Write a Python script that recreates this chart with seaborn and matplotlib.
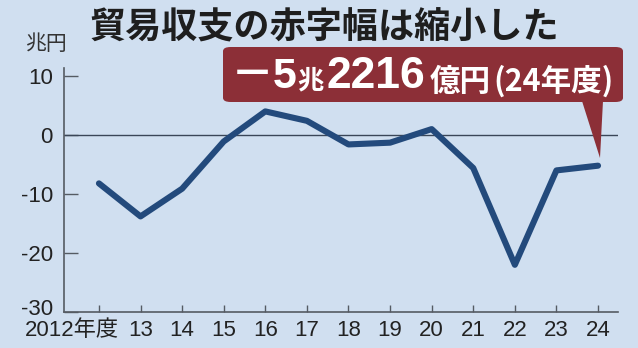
import matplotlib
matplotlib.use("Agg")
import matplotlib.pyplot as plt
import seaborn as sns
import pandas as pd
from matplotlib.patches import FancyBboxPatch, Polygon
from matplotlib.transforms import ScaledTranslation

# ---- data ----
years = [2012, 2013, 2014, 2015, 2016, 2017, 2018, 2019, 2020, 2021, 2022, 2023, 2024]
balance = [-8.2, -13.8, -9.1, -1.1, 4.0, 2.4, -1.6, -1.3, 1.0, -5.6, -22.0, -6.0, -5.2]
xtick_labels = ["2012年度", "13", "14", "15", "16", "17", "18", "19", "20", "21", "22", "23", "24"]
ytick_vals = [10, 0, -10, -20, -30]
ytick_labels = ["10", "0", "-10", "-20", "-30"]
title = "貿易収支の赤字幅は縮小した"
unit = "兆円"

sns.set_theme(style="white")
BG = "#d0dff0"
FAM = ["Liberation Sans", "Noto Sans CJK JP", "DejaVu Sans"]
plt.rcParams["font.family"] = FAM

W, H = 638, 348
fig = plt.figure(figsize=(W / 100, H / 100), dpi=100, facecolor=BG)
ax = fig.add_axes([64 / W, 36 / H, 554 / W, 272 / H])
ax.set_facecolor(BG)

df = pd.DataFrame({"year": years, "balance": balance})
ax.axhline(0, color="#3a4658", lw=1.0, zorder=1)
sns.lineplot(data=df, x="year", y="balance", ax=ax, color="#234a7c", lw=4.4, zorder=3)

ax.set_xlim(2011.16, 2024.48)
ax.set_ylim(-30, 16.1)
ax.set_xlabel("")
ax.set_ylabel("")

for s in ["top", "right"]:
    ax.spines[s].set_visible(False)
for s in ["left", "bottom"]:
    ax.spines[s].set_color("#555b63")
    ax.spines[s].set_linewidth(1.2)
ax.spines["left"].set_bounds(-30, 11.3)

ax.set_yticks(ytick_vals)
ax.set_yticklabels(ytick_labels)
ax.set_xticks(years)
ax.set_xticklabels(xtick_labels)
ax.tick_params(axis="y", direction="in", length=10, width=1.0, color="#555b63",
               labelsize=16, pad=8, labelcolor="#222222", left=True)
ax.tick_params(axis="x", direction="in", length=5, width=1.0, color="#555b63",
               labelsize=16, pad=6, labelcolor="#222222", bottom=True)
for lab in ax.get_xticklabels() + ax.get_yticklabels():
    lab.set_family(FAM)
first = ax.get_xticklabels()[0]
first.set_transform(first.get_transform() + ScaledTranslation(-0.27, 0, fig.dpi_scale_trans))
last_y = ax.get_yticklabels()[-1]
last_y.set_transform(last_y.get_transform() + ScaledTranslation(0, 0.05, fig.dpi_scale_trans))

# title and unit
fig.text(90 / W, 1 - 38 / H, title, fontsize=26, fontweight="bold",
         family=["Noto Sans CJK JP"], color="#1e1e1e", ha="left", va="baseline")
fig.text(25 / W, 1 - 50 / H, unit, fontsize=15, family=["Noto Sans CJK JP"],
         color="#333333", ha="left", va="baseline")

# callout box
RED = "#8c2f37"
def fx(px):
    return px / W
def fy(py):
    return 1 - py / H
box = FancyBboxPatch((fx(223), fy(102)), fx(623) - fx(223), fy(47) - fy(102),
                     boxstyle="round,pad=0,rounding_size=0.012",
                     transform=fig.transFigure, facecolor=RED, edgecolor="none", zorder=5)
fig.patches.append(box)
ptr = Polygon([(fx(582), fy(101)), (fx(603), fy(101)), (fx(600), fy(158))],
              closed=True, transform=fig.transFigure, facecolor=RED, edgecolor="none", zorder=5)
fig.patches.append(ptr)

bold_fam = ["Liberation Sans", "Noto Sans CJK JP"]
cjk = ["Noto Sans CJK JP"]
base_y = fy(88)
pieces = [
    (231, "－5", 31, bold_fam, base_y),
    (297, "兆", 19, cjk, base_y),
    (326, "2216", 32, bold_fam, base_y),
    (430, "億円", 22, cjk, fy(91)),
    (493, "(24年度)", 22, cjk, fy(91)),
]
for px, s, fs, fam, yy in pieces:
    fig.text(fx(px), yy, s, fontsize=fs, fontweight="bold", family=fam,
             color="white", ha="left", va="baseline", zorder=6)

fig.savefig("out.png", dpi=100, facecolor=BG)
